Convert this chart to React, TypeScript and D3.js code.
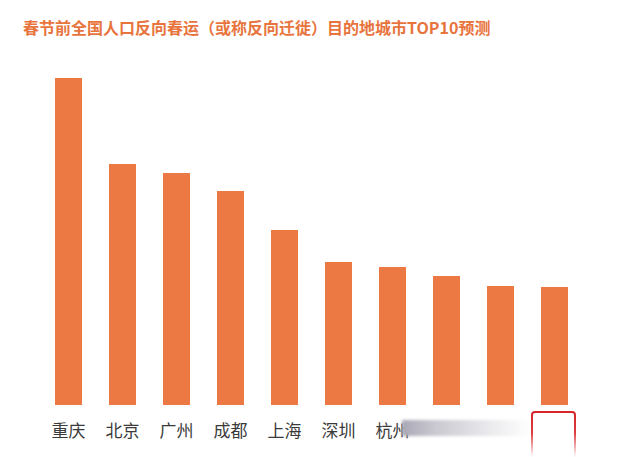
import React from "react";
import * as d3 from "d3";

const title = "春节前全国人口反向春运（或称反向迁徙）目的地城市TOP10预测";
const categories = ["重庆", "北京", "广州", "成都", "上海", "深圳", "杭州", "", "", ""];
const values = [327, 241, 232, 214, 175, 143, 138, 129, 119, 118];

const W = 640;
const H = 457;

export default function App() {
  const x = d3
    .scaleBand<number>()
    .domain(d3.range(categories.length))
    .range([41.5, 581.5])
    .paddingInner(0.5)
    .paddingOuter(0.25);
  const y = d3.scaleLinear().domain([0, 327]).range([405, 78]);

  const boxX0 = 532;
  const boxX1 = 575;
  const boxTop = 412;

  return (
    <div style={{ position: "absolute", left: 0, top: 0, width: W, height: H, background: "#fff" }}>
      <svg width={W} height={H} style={{ display: "block" }}>
        <defs>
          <linearGradient id="smear" x1="0" x2="1" y1="0" y2="0">
            <stop offset="0" stopColor="#a9a7b5" stopOpacity="1" />
            <stop offset="0.25" stopColor="#c9c8d0" stopOpacity="1" />
            <stop offset="0.7" stopColor="#ececef" stopOpacity="1" />
            <stop offset="1" stopColor="#ffffff" stopOpacity="1" />
          </linearGradient>
          <linearGradient id="redfade" x1="0" x2="0" y1="0" y2="1" gradientUnits="userSpaceOnUse"
            >
          </linearGradient>
          <linearGradient id="redfade2" gradientUnits="userSpaceOnUse" x1="0" y1={boxTop} x2="0" y2={H}>
            <stop offset="0" stopColor="#d7262a" stopOpacity="1" />
            <stop offset="0.45" stopColor="#d7262a" stopOpacity="0.9" />
            <stop offset="1" stopColor="#d7262a" stopOpacity="0" />
          </linearGradient>
          <filter id="blur" x="-10%" y="-50%" width="120%" height="200%">
            <feGaussianBlur stdDeviation="1.5" />
          </filter>
        </defs>
        <text
          x={23}
          y={34}
          fill="#E8743D"
          fontSize={16}
          fontWeight="bold"
          fontFamily="'Noto Sans CJK SC', sans-serif"
        >
          {title}
        </text>
        {values.map((v, i) => (
          <rect
            key={i}
            x={x(i)}
            y={y(v)}
            width={x.bandwidth()}
            height={y(0) - y(v)}
            fill="#EC7843"
          />
        ))}
        {categories.map((c, i) => (
          <text
            key={"l" + i}
            x={(x(i) as number) + x.bandwidth() / 2}
            y={437}
            textAnchor="middle"
            fill="#3a3a3a"
            fontSize={17}
            fontFamily="'Noto Sans CJK SC', sans-serif"
          >
            {c}
          </text>
        ))}
        <rect x={402} y={420} width={130} height={16} fill="url(#smear)" filter="url(#blur)" />
        <path
          d={`M${boxX0},${H} L${boxX0},${boxTop + 3} Q${boxX0},${boxTop} ${boxX0 + 3},${boxTop} L${boxX1 - 3},${boxTop} Q${boxX1},${boxTop} ${boxX1},${boxTop + 3} L${boxX1},${H}`}
          fill="none"
          stroke="url(#redfade2)"
          strokeWidth={2}
        />
      </svg>
    </div>
  );
}
